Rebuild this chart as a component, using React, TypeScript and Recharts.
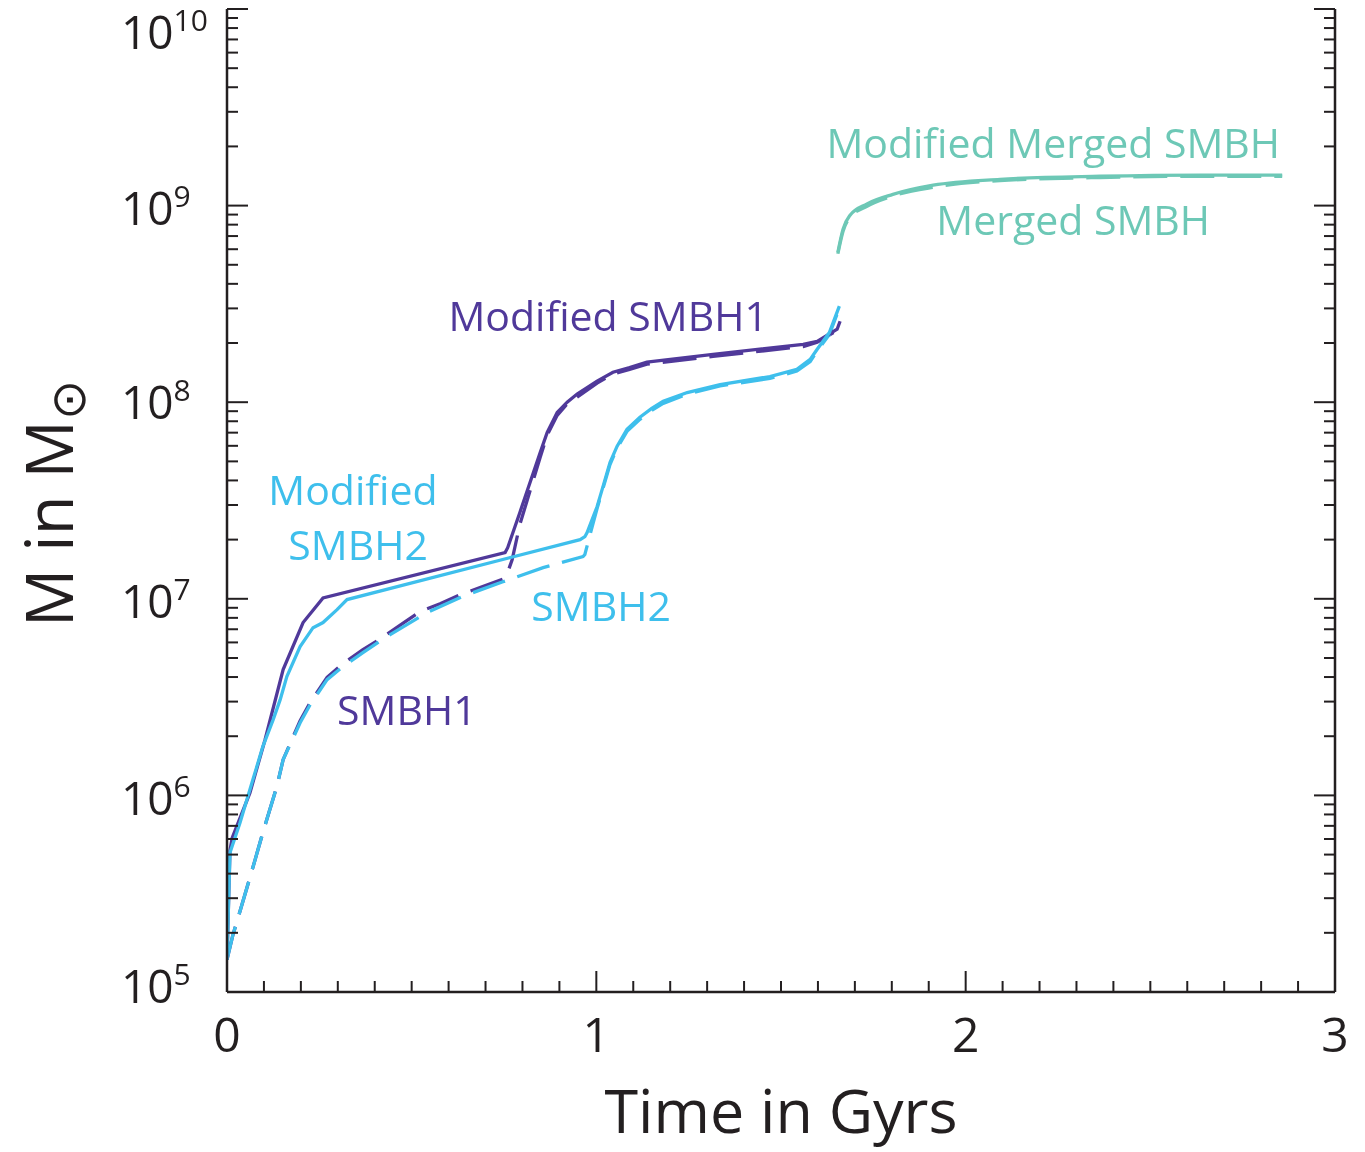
import React from 'react';
import { LineChart, Line, XAxis, YAxis, ReferenceDot } from 'recharts';

// ---- Black hole mass growth (time in Gyr, mass in solar masses) ----

const timeModSmbh1 = [0, 0.008, 0.014, 0.062, 0.103, 0.152, 0.206, 0.26, 0.753, 0.76, 0.793, 0.848, 0.867, 0.894, 0.921, 0.948, 1.002, 1.045, 1.09, 1.137, 1.316, 1.56, 1.598, 1.652, 1.66];
const massModSmbh1 = [1.46e5, 5.25e5, 6.08e5, 1.03e6, 1.92e6, 4.37e6, 7.57e6, 1.01e7, 1.72e7, 1.82e7, 2.75e7, 5.55e7, 7.02e7, 8.87e7, 1.0e8, 1.1e8, 1.28e8, 1.42e8, 1.5e8, 1.6e8, 1.75e8, 1.97e8, 2.04e8, 2.35e8, 2.58e8];

const timeSmbh1 = [0, 0.016, 0.038, 0.076, 0.097, 0.135, 0.152, 0.198, 0.225, 0.271, 0.314, 0.368, 0.414, 0.468, 0.523, 0.577, 0.631, 0.685, 0.747, 0.758, 0.772, 0.793, 0.848, 0.867, 0.894, 0.921, 0.948, 1.002, 1.045, 1.09, 1.137, 1.316, 1.56, 1.598, 1.652, 1.66];
const massSmbh1 = [1.46e5, 1.95e5, 2.68e5, 4.7e5, 6.46e5, 1.11e6, 1.52e6, 2.4e6, 2.96e6, 3.98e6, 4.68e6, 5.51e6, 6.24e6, 7.33e6, 8.61e6, 9.44e6, 1.05e7, 1.14e7, 1.26e7, 1.33e7, 1.58e7, 2.39e7, 5.24e7, 6.8e7, 8.57e7, 9.8e7, 1.06e8, 1.25e8, 1.39e8, 1.47e8, 1.56e8, 1.71e8, 1.92e8, 2.02e8, 2.32e8, 2.52e8];

const timeModSmbh2 = [0, 0.008, 0.035, 0.07, 0.097, 0.125, 0.144, 0.162, 0.198, 0.233, 0.26, 0.298, 0.325, 0.956, 0.969, 0.975, 1.002, 1.018, 1.037, 1.056, 1.083, 1.118, 1.15, 1.181, 1.246, 1.335, 1.47, 1.543, 1.579, 1.598, 1.631, 1.658];
const massModSmbh2 = [1.46e5, 5.11e5, 7.24e5, 1.2e6, 1.77e6, 2.43e6, 3.07e6, 4.02e6, 5.71e6, 7.13e6, 7.57e6, 8.81e6, 9.91e6, 2.0e7, 2.07e7, 2.17e7, 2.94e7, 3.72e7, 4.93e7, 5.96e7, 7.28e7, 8.38e7, 9.3e7, 1.01e8, 1.12e8, 1.23e8, 1.35e8, 1.47e8, 1.65e8, 1.86e8, 2.26e8, 3.08e8];

const timeSmbh2 = [0, 0.016, 0.038, 0.076, 0.097, 0.135, 0.152, 0.198, 0.225, 0.271, 0.314, 0.368, 0.433, 0.542, 0.639, 0.747, 0.856, 0.964, 0.969, 0.983, 1.002, 1.018, 1.037, 1.056, 1.083, 1.118, 1.15, 1.181, 1.246, 1.335, 1.47, 1.543, 1.579, 1.598, 1.631, 1.658];
const massSmbh2 = [1.46e5, 1.95e5, 2.68e5, 4.7e5, 6.46e5, 1.11e6, 1.52e6, 2.34e6, 2.89e6, 3.88e6, 4.52e6, 5.32e6, 6.43e6, 8.51e6, 1.03e7, 1.22e7, 1.44e7, 1.64e7, 1.68e7, 2.12e7, 2.88e7, 3.64e7, 4.82e7, 5.82e7, 7.11e7, 8.18e7, 9.1e7, 9.86e7, 1.1e8, 1.21e8, 1.32e8, 1.44e8, 1.61e8, 1.82e8, 2.21e8, 3.01e8];

const timeModMerged = [1.654, 1.668, 1.687, 1.733, 1.803, 1.912, 2.093, 2.364, 2.635, 2.857];
const massModMerged = [5.79e8, 7.59e8, 8.93e8, 1.02e9, 1.14e9, 1.27e9, 1.36e9, 1.41e9, 1.43e9, 1.43e9];

const timeMerged = [1.654, 1.668, 1.687, 1.733, 1.803, 1.912, 2.093, 2.364, 2.635, 2.857];
const massMerged = [5.69e8, 7.41e8, 8.73e8, 9.93e8, 1.12e9, 1.24e9, 1.34e9, 1.39e9, 1.41e9, 1.41e9];

// axis ticks
const xTicks = [0, 0.1, 0.2, 0.3, 0.4, 0.5, 0.6, 0.7, 0.8, 0.9, 1, 1.1, 1.2, 1.3, 1.4, 1.5, 1.6, 1.7, 1.8, 1.9, 2, 2.1, 2.2, 2.3, 2.4, 2.5, 2.6, 2.7, 2.8, 2.9, 3];
const yDecades = [1e5, 1e6, 1e7, 1e8, 1e9, 1e10];
const yMantissas = [1, 2, 3, 4, 5, 6, 7, 8, 9];

const PURPLE = '#50399A';
const CYAN = '#3EBFEC';
const TEAL = '#6DC8B6';
const INK = '#231F20';
const FONT = '"Open Sans", sans-serif';

const yTicks = yDecades.flatMap((d, i) =>
  i === yDecades.length - 1 ? [d] : yMantissas.map((m) => m * d)
);

const toPoints = (ts: number[], ms: number[]) => ts.map((t, i) => ({ t, m: ms[i] }));

const seriesModSmbh1 = toPoints(timeModSmbh1, massModSmbh1);
const seriesSmbh1 = toPoints(timeSmbh1, massSmbh1);
const seriesModSmbh2 = toPoints(timeModSmbh2, massModSmbh2);
const seriesSmbh2 = toPoints(timeSmbh2, massSmbh2);
const seriesModMerged = toPoints(timeModMerged, massModMerged);
const seriesMerged = toPoints(timeMerged, massMerged);

// in-plot labels: [text, time, mass, colour]
const annotations: [string, number, number, string][] = [
  ['Modified Merged SMBH', 2.237, 2.1e9, TEAL],
  ['Merged SMBH', 2.291, 8.53e8, TEAL],
  ['Modified SMBH1', 1.032, 2.77e8, PURPLE],
  ['Modified', 0.341, 3.6e7, CYAN],
  ['SMBH2', 0.355, 1.89e7, CYAN],
  ['SMBH2', 1.013, 9.33e6, CYAN],
  ['SMBH1', 0.487, 2.76e6, PURPLE],
];

const MAJOR = 21;
const MINOR = 11;
const isInt = (v: number) => Math.abs(v - Math.round(v)) < 1e-6;

const BottomTick = (props: any) => {
  const { x, y, payload } = props;
  const v = payload.value;
  const major = isInt(v);
  return (
    <g>
      <line x1={x} x2={x} y1={y} y2={y - (major ? MAJOR : MINOR)} stroke={INK} strokeWidth={2} />
      {major && (
        <text x={x} y={y + 60} textAnchor="middle" fontSize={48} fontFamily={FONT} fill={INK}>
          {Math.round(v)}
        </text>
      )}
    </g>
  );
};

const TopTick = (props: any) => {
  const { x, y, payload } = props;
  const major = isInt(payload.value);
  return <line x1={x} x2={x} y1={y} y2={y + (major ? MAJOR : MINOR)} stroke={INK} strokeWidth={2} />;
};

// baseline offset of each decade label below its tick
const labelShift: Record<number, number> = { 5: 11, 6: 20, 7: 19, 8: 17, 9: 19, 10: 40 };

const LeftTick = (props: any) => {
  const { x, y, payload } = props;
  const e = Math.log10(payload.value);
  const major = isInt(e);
  const exp = Math.round(e);
  return (
    <g>
      <line x1={x} x2={x + (major ? MAJOR : MINOR)} y1={y} y2={y} stroke={INK} strokeWidth={2} />
      {major && (
        <text x={x - 106} y={y + labelShift[exp]} fontFamily={FONT} fill={INK} fontSize={46}>
          10
          <tspan fontSize={30} dy={-18}>{exp}</tspan>
        </text>
      )}
    </g>
  );
};

const RightTick = (props: any) => {
  const { x, y, payload } = props;
  const major = isInt(Math.log10(payload.value));
  return <line x1={x} x2={x - (major ? MAJOR : MINOR)} y1={y} y2={y} stroke={INK} strokeWidth={2} />;
};

const AnnotationLabel = (text: string, color: string) => (props: any) => {
  const { viewBox } = props;
  return (
    <text
      x={viewBox.x + viewBox.width / 2}
      y={viewBox.y + viewBox.height / 2}
      textAnchor="middle"
      dominantBaseline="central"
      fontSize={41}
      fontFamily={FONT}
      fill={color}
    >
      {text}
    </text>
  );
};

const XTitle = (props: any) => {
  const { viewBox } = props;
  return (
    <text x={viewBox.x + viewBox.width / 2} y={viewBox.y + 141} textAnchor="middle" fontSize={61} fontFamily={FONT} fill={INK}>
      Time in Gyrs
    </text>
  );
};

const YTitle = (props: any) => {
  const { viewBox } = props;
  const cx = 48;
  const cy = viewBox.y + viewBox.height / 2 + 3;
  return (
    <text
      x={cx}
      y={cy}
      transform={`rotate(-90 ${cx} ${cy})`}
      textAnchor="middle"
      dominantBaseline="central"
      fontSize={65}
      fontFamily={FONT}
      fill={INK}
    >
      M in M
      <tspan fontSize={48} dy={18}>⊙</tspan>
    </text>
  );
};

const lineProps = { dataKey: 'm', dot: false, activeDot: false, isAnimationActive: false, strokeWidth: 3.3, type: 'linear' as const };
const DASH = '34 13';

export default function App() {
  return (
    <div style={{ position: 'fixed', left: 0, top: 0, width: 1365, height: 1152 }}>
      <LineChart width={1365} height={1152} margin={{ top: 9, right: 0, bottom: 0, left: 0 }}>
        <XAxis
          xAxisId={0}
          type="number"
          dataKey="t"
          domain={[0, 3]}
          ticks={xTicks}
          interval={0}
          allowDataOverflow
          height={160}
          tickSize={0}
          tickMargin={0}
          tick={<BottomTick />}
          axisLine={{ stroke: INK, strokeWidth: 2.5 }}
          label={<XTitle />}
        />
        <XAxis
          xAxisId="top"
          orientation="top"
          type="number"
          domain={[0, 3]}
          ticks={xTicks}
          interval={0}
          allowDataOverflow
          height={0}
          tickSize={0}
          tickMargin={0}
          tick={<TopTick />}
          axisLine={{ stroke: INK, strokeWidth: 2.5 }}
        />
        <YAxis
          yAxisId={0}
          type="number"
          scale="log"
          domain={[1e5, 1e10]}
          ticks={yTicks}
          interval={0}
          allowDataOverflow
          width={227}
          tickSize={0}
          tickMargin={0}
          tick={<LeftTick />}
          axisLine={{ stroke: INK, strokeWidth: 2.5 }}
          label={<YTitle />}
        />
        <YAxis
          yAxisId="right"
          orientation="right"
          type="number"
          scale="log"
          domain={[1e5, 1e10]}
          ticks={yTicks}
          interval={0}
          allowDataOverflow
          width={30}
          tickSize={0}
          tickMargin={0}
          tick={<RightTick />}
          axisLine={{ stroke: INK, strokeWidth: 2.5 }}
        />

        <Line {...lineProps} data={seriesSmbh1} stroke={PURPLE} strokeDasharray={DASH} />
        <Line {...lineProps} data={seriesSmbh2} stroke={CYAN} strokeDasharray={DASH} />
        <Line {...lineProps} data={seriesModSmbh1} stroke={PURPLE} />
        <Line {...lineProps} data={seriesModSmbh2} stroke={CYAN} />
        <Line {...lineProps} type="monotoneX" data={seriesMerged} stroke={TEAL} strokeDasharray={DASH} />
        <Line {...lineProps} type="monotoneX" data={seriesModMerged} stroke={TEAL} />

        {annotations.map(([text, t, m, color], i) => (
          <ReferenceDot
            key={i}
            x={t}
            y={m}
            r={0}
            fill="none"
            stroke="none"
            ifOverflow="visible"
            label={AnnotationLabel(text, color)}
          />
        ))}
      </LineChart>
    </div>
  );
}
